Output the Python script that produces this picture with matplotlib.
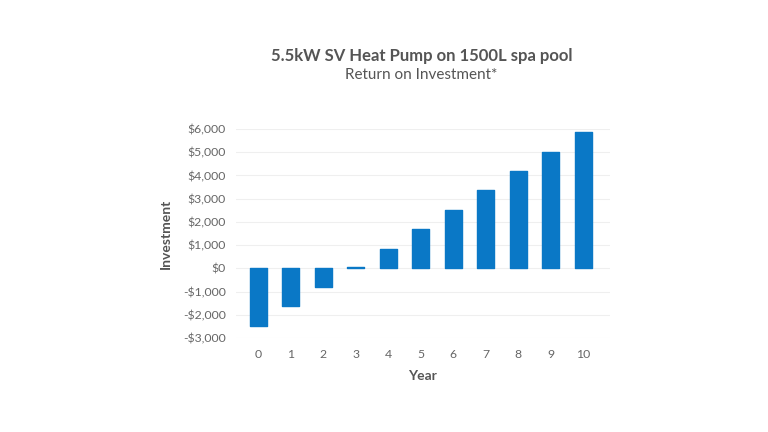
import matplotlib.pyplot as plt

# Data
years = [0, 1, 2, 3, 4, 5, 6, 7, 8, 9, 10]
returns = [-2470, -1620, -790, 40, 840, 1700, 2530, 3360, 4190, 5030, 5860]
y_ticks = [-3000, -2000, -1000, 0, 1000, 2000, 3000, 4000, 5000, 6000]
y_tick_labels = ['-$3,000', '-$2,000', '-$1,000', '$0', '$1,000', '$2,000',
                 '$3,000', '$4,000', '$5,000', '$6,000']

plt.rcParams['font.family'] = ['Lato', 'DejaVu Sans']

fig = plt.figure(figsize=(7.68, 4.32), dpi=100)
ax = fig.add_axes([0.307, 0.2176, 0.487, 0.4838])

bar_color = '#0a78c6'
ax.bar(years, returns, width=0.52, color=bar_color, edgecolor=bar_color,
       linewidth=1, joinstyle='round', zorder=3)

ax.set_xlim(-0.69, 10.82)
ax.set_ylim(-3000, 6000)
ax.set_xticks(years)
ax.set_xticklabels([str(y) for y in years])
ax.set_yticks(y_ticks)
ax.set_yticklabels(y_tick_labels)

ax.grid(axis='y', color='#efefef', linewidth=0.8, zorder=0)
for side in ['top', 'right', 'left', 'bottom']:
    ax.spines[side].set_visible(False)
ax.tick_params(axis='both', length=0, labelsize=8.8, colors='#666666')
ax.tick_params(axis='y', pad=7)
ax.tick_params(axis='x', pad=8)

ax.set_xlabel('Year', fontsize=10, fontweight='bold', color='#555555', labelpad=7)
ax.set_ylabel('Investment', fontsize=10, fontweight='bold', color='#555555', labelpad=8)

fig.text(0.549, 0.87, '5.5kW SV Heat Pump on 1500L spa pool', ha='center', va='center',
         fontsize=12, fontweight='bold', color='#555555')
fig.text(0.548, 0.826, 'Return on Investment*', ha='center', va='center',
         fontsize=11, color='#555555')

fig.savefig('out.png', dpi=100)
